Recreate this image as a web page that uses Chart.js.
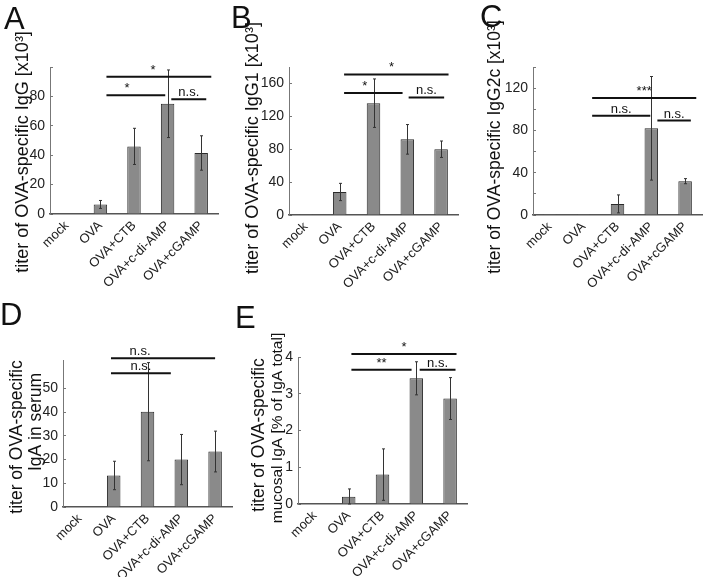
<!DOCTYPE html>
<html>
<head>
<meta charset="utf-8">
<script src="https://cdn.jsdelivr.net/npm/chart.js@4.4.0/dist/chart.umd.min.js"></script>
<style>
  body { margin: 0; background: #fff; }
  #fig { position: relative; width: 706px; height: 577px; overflow: hidden; font-family: 'Liberation Sans', Arial, sans-serif; }
  #fig canvas { position: absolute; }
  .letter { position: absolute; font-size: 31px; line-height: 1; color: #111; }
</style>
</head>
<body>
<div id="fig">
  <canvas id="chartA" width="230" height="290" style="left:0;top:0"></canvas>
  <canvas id="chartB" width="232" height="290" style="left:230px;top:0"></canvas>
  <canvas id="chartC" width="246" height="290" style="left:460px;top:0"></canvas>
  <canvas id="chartD" width="240" height="287" style="left:0;top:290px"></canvas>
  <canvas id="chartE" width="240" height="287" style="left:230px;top:290px"></canvas>
  <div class="letter" style="left:4px;top:3px">A</div>
  <div class="letter" style="left:231px;top:2px">B</div>
  <div class="letter" style="left:480px;top:1px">C</div>
  <div class="letter" style="left:0px;top:299px">D</div>
  <div class="letter" style="left:235px;top:302px">E</div>
</div>
<script>
// groups on the x axis (same for every panel)
const categories = ['mock', 'OVA', 'OVA+CTB', 'OVA+c-di-AMP', 'OVA+cGAMP'];

// A - IgG
const iggMeans = [0, 6.5, 46, 75, 41.5];
const iggErrors = [0, 2.7, 12.3, 23, 11.7];
// B - IgG1
const igg1Means = [1, 28, 136, 92, 80];
const igg1Errors = [0, 10.5, 29.5, 18, 10];
// C - IgG2c
const igg2cMeans = [0.8, 0.8, 10.5, 82, 32];
const igg2cErrors = [0, 0, 8.5, 49, 2.4];
// D - serum IgA
const serumIgaMeans = [0, 13.3, 40.2, 20, 23.4];
const serumIgaErrors = [0, 6, 20.7, 10.6, 8.6];
// E - mucosal IgA (% of total IgA)
const mucosalIgaMeans = [0, 0.2, 0.8, 3.42, 2.87];
const mucosalIgaErrors = [0, 0.21, 0.7, 0.45, 0.57];

// significance bars: [from group, to group, level, label, label at group]
const iggSig = [[1.18, 4.3, 93.3, '*', 2.57], [1.18, 2.93, 80.8, '*', 1.79], [3.11, 4.15, 78.1, 'n.s.']];
const igg1Sig = [[1.13, 4.22, 171, '*', 2.53], [1.13, 2.86, 148.5, '*', 1.74], [3.04, 4.09, 143, 'n.s.']];
const igg2cSig = [[1.25, 4.33, 110.6, '***'], [1.25, 2.97, 94, 'n.s.'], [3.18, 4.17, 89.3, 'n.s.']];
const serumIgaSig = [[0.92, 4.0, 62.7, 'n.s.', 1.78], [0.92, 2.69, 56.4, 'n.s.']];
const mucosalIgaSig = [[1.08, 4.19, 4.08, '*'], [1.08, 2.86, 3.65, '**'], [3.1, 4.16, 3.65, 'n.s.']];

// y axis ranges: max, minor step, labelled step
const iggAxis = [100, 10, 20];
const igg1Axis = [180, 20, 40];
const igg2cAxis = [140, 20, 40];
const serumIgaAxis = [62, 10, 10];
const mucosalIgaAxis = [4, 0.5, 1];

const FONT = "'Liberation Sans', Arial, sans-serif";
Chart.defaults.font.family = FONT;
Chart.defaults.animation = false;

function extras(p) {
  return {
    id: 'extras',
    afterDatasetsDraw(chart) {
      const ctx = chart.ctx;
      const xs = chart.scales.x, ys = chart.scales.y;
      const meta = chart.getDatasetMeta(0);
      ctx.save();

      // error bars
      ctx.strokeStyle = '#333';
      ctx.lineWidth = 1;
      p.errors.forEach((e, i) => {
        if (!e) return;
        const bx = Math.round(meta.data[i].x) + 0.5;
        const t = ys.getPixelForValue(p.values[i] + e);
        const b = ys.getPixelForValue(Math.max(p.values[i] - e, 0));
        ctx.beginPath();
        ctx.moveTo(bx, t); ctx.lineTo(bx, b);
        ctx.moveTo(bx - 1.5, t); ctx.lineTo(bx + 1.5, t);
        ctx.moveTo(bx - 1.5, b); ctx.lineTo(bx + 1.5, b);
        ctx.stroke();
      });

      // significance lines
      ctx.strokeStyle = '#111';
      ctx.fillStyle = '#111';
      ctx.lineWidth = 2;
      ctx.font = '13px ' + FONT;
      ctx.textAlign = 'center';
      ctx.textBaseline = 'alphabetic';
      p.sig.forEach(s => {
        const x1 = xs.getPixelForValue(s[0]);
        const x2 = xs.getPixelForValue(s[1]);
        const y = ys.getPixelForValue(s[2]);
        ctx.beginPath();
        ctx.moveTo(x1, y); ctx.lineTo(x2, y);
        ctx.stroke();
        const lx = s[4] != null ? xs.getPixelForValue(s[4]) : (x1 + x2) / 2;
        ctx.fillText(s[3], lx, y - 3);
      });

      // rotated axis title, one baseline per line
      p.title.forEach((line, k) => {
        ctx.save();
        ctx.font = p.titleSize[k] + 'px ' + FONT;
        ctx.translate(p.titleX[k], p.titleY[k]);
        ctx.rotate(-Math.PI / 2);
        ctx.fillText(line, 0, 0);
        ctx.restore();
      });
      ctx.restore();
    }
  };
}

function makePanel(id, p) {
  const [max, step, labelStep] = p.axis;
  new Chart(document.getElementById(id), {
    type: 'bar',
    data: {
      labels: categories,
      datasets: [{
        data: p.values,
        backgroundColor: '#8a8a8a',
        borderColor: '#2a2a2a',
        borderWidth: 1,
        barPercentage: 0.4,
        categoryPercentage: 1
      }]
    },
    options: {
      responsive: false,
      devicePixelRatio: 1,
      layout: { padding: { left: 0, top: p.padTop, right: p.padRight, bottom: 0 } },
      plugins: { legend: { display: false }, tooltip: { enabled: false } },
      scales: {
        x: {
          afterFit: s => { s.height = p.xHeight; },
          grid: { display: false, drawTicks: false },
          border: { display: true, color: '#555', width: 1.5 },
          ticks: {
            autoSkip: false, minRotation: 45, maxRotation: 45, padding: 4,
            color: '#222', font: { size: 13 }
          }
        },
        y: {
          min: 0,
          max: max,
          afterFit: s => { s.width = p.yWidth; },
          afterBuildTicks: s => {
            s.ticks = s.ticks.filter(t => Math.abs(t.value / step - Math.round(t.value / step)) < 1e-6);
          },
          grid: { drawOnChartArea: false, drawTicks: true, tickLength: -3, color: '#777' },
          border: { display: true, color: '#777', width: 1 },
          ticks: {
            stepSize: step, padding: 8, color: '#222', font: { size: 14 },
            callback: v => {
              const onLabel = Math.abs(v / labelStep - Math.round(v / labelStep)) < 1e-6;
              if (!onLabel || (p.hideTop && v >= max)) return '';
              return v;
            }
          }
        }
      }
    },
    plugins: [extras(p)]
  });
}

makePanel('chartA', {
  values: iggMeans, errors: iggErrors, sig: iggSig, axis: iggAxis, hideTop: true,
  yWidth: 50, padTop: 67, padRight: 12, xHeight: 76,
  title: ['titer of OVA-specific IgG [x10³]'], titleX: [28], titleY: [152], titleSize: [18]
});
makePanel('chartB', {
  values: igg1Means, errors: igg1Errors, sig: igg1Sig, axis: igg1Axis, hideTop: true,
  yWidth: 59, padTop: 67, padRight: 4, xHeight: 75,
  title: ['titer of OVA-specific IgG1 [x10³]'], titleX: [28], titleY: [148], titleSize: [18]
});
makePanel('chartC', {
  values: igg2cMeans, errors: igg2cErrors, sig: igg2cSig, axis: igg2cAxis, hideTop: true,
  yWidth: 73, padTop: 67, padRight: 4, xHeight: 75,
  title: ['titer of OVA-specific IgG2c [x10³]'], titleX: [40], titleY: [147], titleSize: [17.5]
});
makePanel('chartD', {
  values: serumIgaMeans, errors: serumIgaErrors, sig: serumIgaSig, axis: serumIgaAxis, hideTop: false,
  yWidth: 63, padTop: 70, padRight: 8, xHeight: 70,
  title: ['titer of OVA-specific', 'IgA in serum'], titleX: [22, 41], titleY: [147, 132], titleSize: [17.5, 17.5]
});
makePanel('chartE', {
  values: mucosalIgaMeans, errors: mucosalIgaErrors, sig: mucosalIgaSig, axis: mucosalIgaAxis, hideTop: false,
  yWidth: 68, padTop: 67, padRight: 3, xHeight: 73,
  title: ['titer of OVA-specific', 'mucosal IgA [% of IgA total]'], titleX: [34, 52], titleY: [145, 138], titleSize: [17.5, 15.5]
});
</script>
</body>
</html>
